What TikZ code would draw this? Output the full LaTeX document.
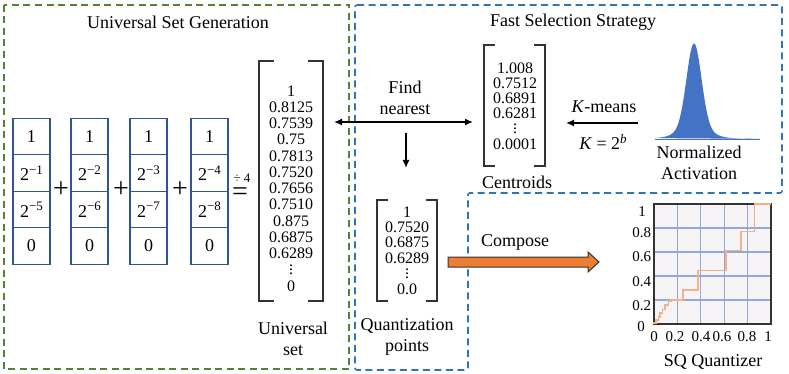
\documentclass[tikz,border=0pt]{standalone}
\usepackage{fontspec}
\setmainfont{Liberation Serif}
\usetikzlibrary{arrows.meta}
\definecolor{grn}{HTML}{548235}
\definecolor{blu}{HTML}{2E75B6}
\definecolor{cellc}{HTML}{2F5597}
\definecolor{gaussc}{HTML}{4472C4}
\definecolor{gridc}{HTML}{8EA9DB}
\definecolor{plotbg}{HTML}{F6F4F6}
\definecolor{stairc}{HTML}{F4B183}
\definecolor{orng}{HTML}{ED7D31}
\definecolor{brk}{HTML}{333333}
\newcommand\mybrk[2]{%
  \draw[brkline] ([xshift=#2]#1.north west) -- (#1.north west) -- (#1.south west) -- ([xshift=#2]#1.south west);
  \draw[brkline] ([xshift=-#2]#1.north east) -- (#1.north east) -- (#1.south east) -- ([xshift=-#2]#1.south east);}
\newcommand\mydots{\vbox{\baselineskip=4.2pt\lineskiplimit=0pt\hbox{.}\hbox{.}\hbox{.}}}
\newcommand\sexp[1]{\raisebox{6.5pt}{\fontsize{13}{13}\selectfont #1}}
\begin{document}
\begin{tikzpicture}[x=1pt,y=-1pt,
  every node/.style={inner sep=0pt, outer sep=0pt},
  lbl/.style={font=\fontsize{18}{21.5}\selectfont, align=center},
  numcol/.style={align=center, anchor=north},
  ticklbl/.style={font=\fontsize{15}{15}\selectfont},
  bigop/.style={font=\fontsize{28}{28}\selectfont},
  cellbox/.style={draw=cellc, line width=1.3pt, minimum width=37pt, minimum height=36.5pt, font=\fontsize{18}{18}\selectfont},
  brkbox/.style={draw=none},
  brkline/.style={draw=brk, line width=1.5pt, line join=miter},
  region/.style={dash pattern=on 7pt off 4.5pt, line width=1.6pt},
  arr/.style={line width=1.5pt, -{Latex[length=8pt,width=7pt]}},
]
\useasboundingbox (0,0) rectangle (789,374);

% regions
\draw[region, grn] (4,5) rectangle (349,369);
\draw[region, blu, rounded corners=2pt] (355,5) -- (782,5) -- (782,193) -- (468,193) -- (468,370) -- (355,370) -- cycle;

\node[lbl] (t1) at (178,22) {Universal Set Generation};
\node[lbl] (t2) at (573,22) {Fast Selection Strategy};

% columns
\foreach \c/\x/\a/\b in {1/31.5/1/5, 2/89.5/2/6, 3/148.5/3/7, 4/209.5/4/8}{
  \node[cellbox] (c\c a) at (\x,136.5) {1};
  \node[cellbox] (c\c b) at (\x,173) {2\sexp{−\a}};
  \node[cellbox] (c\c c) at (\x,209.5) {2\sexp{−\b}};
  \node[cellbox] (c\c d) at (\x,246) {0};
}
\node[bigop] (p1) at (61,190) {+};
\node[bigop] (p2) at (121,190) {+};
\node[bigop] (p3) at (180,190) {+};
\node[bigop] (eq) at (240,194) {=};
\node[font=\fontsize{13}{13}\selectfont] (dv) at (242,178) {÷ 4};

% universal set
\node[brkbox, minimum width=64pt, minimum height=240pt] (univ) at (291,181) {};
\mybrk{univ}{15pt}
\node[numcol, font=\fontsize{16}{16.25}\selectfont] (uvals) at (291,85.5)
  {1\\0.8125\\0.7539\\0.75\\0.7813\\0.7520\\0.7656\\0.7510\\0.875\\0.6875\\0.6289\\\mydots\\0};
\node[lbl] (ul) at (293,339) {Universal\\set};

% centroids
\node[brkbox, minimum width=61pt, minimum height=121pt] (cent) at (514.5,105.5) {};
\mybrk{cent}{11pt}
\node[numcol, font=\fontsize{16}{15.2}\selectfont] (kvals) at (515,62.5)
  {1.008\\0.7512\\0.6891\\0.6281\\\mydots\\0.0001};
\node[lbl] (cl) at (517,182) {Centroids};

% quantization points
\node[brkbox, minimum width=60pt, minimum height=101pt] (qp) at (407,250.5) {};
\mybrk{qp}{11pt}
\node[numcol, font=\fontsize{16}{15.4}\selectfont] (qvals) at (407,206.5)
  {1\\0.7520\\0.6875\\0.6289\\\mydots\\0.0};
\node[lbl] (ql) at (407,337) {Quantization\\points};

% find nearest
\node[lbl] (fn) at (405,98) {Find\\nearest};
\coordinate (fnL) at (334,122);
\coordinate (fnR) at (473,122);
\draw[line width=1.5pt, {Latex[length=8pt,width=7pt]}-{Latex[length=8pt,width=7pt]}] (fnL) -- (fnR);
\coordinate (dnA) at (406,133);
\coordinate (dnB) at (406,168);
\draw[arr] (dnA) -- (dnB);

% k-means
\coordinate (kmA) at (638,123);
\coordinate (kmB) at (566,123);
\draw[arr] (kmA) -- (kmB);
\node[lbl] (km) at (604,107) {\textit{K}-means};
\node[lbl] (kb) at (603,142) {\textit{K} = 2\sexp{\textit{b}}};

% gaussian
\fill[gaussc] plot[domain=655:760, samples=211, smooth] (\x, {139 - 84*exp(-((\x-694)^2)/110) - 10*exp(-((\x-694)^2)/420) - 1.5*exp(-((\x-694)^2)/1800)}) -- cycle;
\draw[gaussc, line width=0.7pt] (655,139) -- (760,139);
\node[lbl] (na) at (699,163) {Normalized\\Activation};

% compose arrow
\coordinate (cpA) at (448,262);
\coordinate (cpB) at (599,262);
\draw[fill=orng, draw=brk, line width=1pt, line join=miter]
  ([yshift=5pt]cpA) -- ([xshift=-11pt,yshift=5pt]cpB) -- ([xshift=-11pt,yshift=10pt]cpB) -- (cpB)
  -- ([xshift=-11pt,yshift=-10pt]cpB) -- ([xshift=-11pt,yshift=-5pt]cpB) -- ([yshift=-5pt]cpA) -- cycle;
\node[lbl] (cp) at (515,242) {Compose};

% SQ quantizer plot
\begin{scope}[shift={(654pt,-324pt)}, x=117pt, y=120pt]
  \fill[plotbg] (0,0) rectangle (1,1);
  \foreach \g in {0.2,0.4,0.6,0.8}{
    \draw[gridc, line width=1.1pt] (\g,0) -- (\g,1);
    \draw[gridc, line width=1.1pt] (0,\g) -- (1,\g);
  }
  \draw[brk, line width=1.2pt] (0,0) rectangle (1,1);
  \draw[stairc, line width=1.6pt, line join=miter]
    (0,0) -- (0,0.01) -- (0.017,0.01) -- (0.017,0.035) -- (0.037,0.035) -- (0.037,0.06)
    -- (0.051,0.06) -- (0.051,0.09) -- (0.074,0.09) -- (0.074,0.12) -- (0.094,0.12)
    -- (0.094,0.16) -- (0.123,0.16) -- (0.123,0.19) -- (0.143,0.19) -- (0.143,0.2)
    -- (0.25,0.2) -- (0.25,0.283) -- (0.376,0.283) -- (0.376,0.446) -- (0.614,0.446)
    -- (0.614,0.612) -- (0.741,0.612) -- (0.741,0.77) -- (0.859,0.77) -- (0.859,1) -- (1,1);
\end{scope}
\node[ticklbl] (y1) at (642,212) {1};
\node[ticklbl, anchor=east] (y8) at (651,233) {0.8};
\node[ticklbl, anchor=east] (y6) at (651,257) {0.6};
\node[ticklbl, anchor=east] (y4) at (651,282) {0.4};
\node[ticklbl, anchor=east] (y2) at (651,306) {0.2};
\node[ticklbl] (y0) at (641,327) {0};
\node[ticklbl] (x0) at (654,337) {0};
\node[ticklbl] (x2) at (675,337) {0.2};
\node[ticklbl] (x4) at (701,337) {0.4};
\node[ticklbl] (x6) at (722,337) {0.6};
\node[ticklbl] (x8) at (747,337) {0.8};
\node[ticklbl] (x1) at (768,337) {1};
\node[lbl] (sq) at (713,362) {SQ Quantizer};
\end{tikzpicture}
\end{document}
